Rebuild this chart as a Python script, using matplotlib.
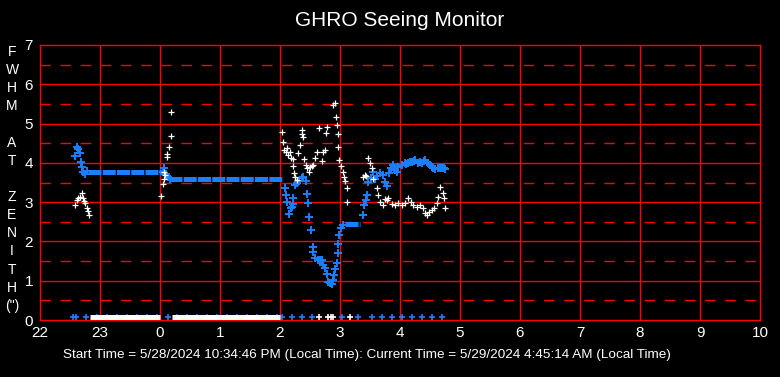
import numpy as np
import matplotlib
matplotlib.use("Agg")
import matplotlib.pyplot as plt
from matplotlib.transforms import ScaledTranslation

plt.rcParams['font.family'] = ['Liberation Sans', 'DejaVu Sans']

# hours relative to midnight (22:00 -> -2)
xticks = list(range(-2, 11))
xtick_labels = ["22", "23", "0", "1", "2", "3", "4", "5", "6", "7", "8", "9", "10"]

# blue series - scattered readings
blue_t = [-1.417, -1.383, -1.367, -1.333, -1.317, -1.30, -1.283, -1.25, -1.217,
          0.05, 0.067, 0.10, 0.133, 0.167,
          2.083, 2.10, 2.117, 2.15, 2.183, 2.20, 2.217, 2.217, 2.25, 2.283, 2.317,
          2.367, 2.383, 2.433, 2.45, 2.467, 2.483, 2.517, 2.55, 2.55, 2.583, 2.633,
          2.667, 2.70, 2.717, 2.75, 2.783, 2.80, 2.833, 2.867, 2.883, 2.90, 2.917,
          2.95, 2.967, 2.967, 2.983, 3.017, 3.05,
          3.383, 3.40, 3.433, 3.45, 3.467, 3.517, 3.55, 3.583, 3.617, 3.667, 3.717,
          3.75, 3.783, 3.817, 3.85, 3.883, 3.917, 3.95, 3.967, 4.033, 4.083, 4.10,
          4.133, 4.167, 4.20, 4.233, 4.25, 4.30, 4.333, 4.367, 4.40, 4.417, 4.467,
          4.50, 4.533, 4.55, 4.583, 4.633, 4.667, 4.70, 4.733, 4.75]
blue_v = [4.17, 4.40, 4.35, 4.25, 4.02, 3.89, 3.77, 3.72, 3.79,
          3.77, 3.87, 3.72, 3.64, 3.59,
          3.36, 3.18, 3.00, 2.70, 2.85, 2.88, 3.10, 2.95, 3.43, 3.49, 3.54,
          3.61, 3.64, 3.54, 3.21, 2.98, 2.62, 2.29, 1.86, 1.73, 1.58, 1.53,
          1.53, 1.53, 1.40, 1.32, 1.17, 0.97, 0.94, 0.92, 1.02, 1.15, 1.30,
          1.45, 1.70, 1.93, 2.16, 2.34, 2.42,
          2.67, 2.93, 3.05, 3.18, 3.51, 3.61, 3.77, 3.59, 3.66, 3.74, 3.69,
          3.51, 3.41, 3.74, 3.87, 3.94, 3.82, 3.77, 3.89, 3.94, 4.00, 3.98,
          4.00, 4.03, 4.02, 4.05, 4.07, 4.00, 4.03, 4.00, 4.05, 4.07, 4.00,
          3.95, 3.89, 3.86, 3.84, 3.87, 3.88, 3.87, 3.86, 3.84]

# blue series - long flat runs (start, end, value)
blue_runs = [(-1.20, 0.03, 3.76), (0.15, 2.03, 3.58), (3.08, 3.33, 2.44)]

# blue zero readings
blue_zero_t = [-1.45, -1.40, -1.233, -1.05, -0.883, -0.717, -0.55, -0.383, -0.217,
               -0.05, 0.133, 0.283, 0.45, 0.617, 0.783, 0.95, 1.117, 1.283, 1.45,
               1.617, 1.783, 1.95, 2.033, 2.20, 2.367, 2.533, 3.033, 3.30, 3.533,
               3.70, 3.867, 4.033, 4.20, 4.367, 4.533, 4.70]

# white series
white_t = [-1.417, -1.383, -1.367, -1.333, -1.30, -1.283, -1.267, -1.25, -1.217,
           -1.20, -1.183,
           0.017, 0.05, 0.067, 0.067, 0.083, 0.117, 0.117, 0.15, 0.183, 0.183,
           2.033, 2.05, 2.067, 2.10, 2.117, 2.133, 2.167, 2.183, 2.217, 2.217,
           2.233, 2.25, 2.283, 2.30, 2.333, 2.367, 2.367, 2.383, 2.40, 2.433,
           2.45, 2.483, 2.50, 2.533, 2.55, 2.583, 2.617, 2.65, 2.70, 2.717, 2.75,
           2.767, 2.783, 2.883, 2.917, 2.933, 2.95, 2.967, 2.967, 2.983, 3.017,
           3.05, 3.067, 3.083, 3.117, 3.117,
           3.383, 3.417, 3.433, 3.467, 3.50, 3.533, 3.55, 3.617, 3.633, 3.667,
           3.717, 3.75, 3.783, 3.80, 3.867, 3.917, 3.967, 4.033, 4.083, 4.133,
           4.183, 4.217, 4.283, 4.333, 4.383, 4.417, 4.45, 4.483, 4.533, 4.567,
           4.617, 4.633, 4.667, 4.717, 4.733, 4.75]
white_v = [2.93, 3.05, 3.10, 3.13, 3.23, 3.10, 3.03, 2.98, 2.85,
           2.77, 2.67,
           3.16, 3.46, 3.59, 3.77, 3.69, 4.15, 4.22, 4.40, 4.68, 5.29,
           4.78, 4.53, 4.33, 4.27, 4.38, 4.20, 4.27, 4.12, 4.10, 3.92,
           3.74, 3.64, 3.56, 4.25, 4.45, 4.73, 4.83, 4.66, 4.10, 3.94,
           3.87, 3.77, 3.89, 3.92, 3.94, 4.12, 4.27, 4.89, 4.05, 4.27, 4.33,
           4.76, 4.91, 5.47, 5.52, 5.17, 4.96, 4.73, 4.40, 4.07, 3.92,
           3.77, 3.64, 3.54, 3.36, 3.00,
           3.64, 3.69, 3.66, 4.12, 4.00, 3.87, 3.59, 3.36, 3.18, 3.00,
           2.93, 3.08, 3.05, 3.10, 2.95, 2.93, 2.98, 2.93, 2.98, 3.10,
           3.00, 2.93, 2.88, 2.93, 2.85, 2.72, 2.67, 2.75, 2.80, 2.85,
           2.98, 3.13, 3.38, 3.23, 3.10, 2.85]

# white zero readings: dense runs and single points
white_zero_runs = [(-1.17, 0.0), (0.2, 2.0)]
white_zero_t = [2.65, 2.80, 2.85, 2.883, 3.167]

BLUE = "#1a80ff"
RED = "#ff0000"

fig = plt.figure(figsize=(7.8, 3.77), dpi=100, facecolor="black")
ax = fig.add_axes([40 / 780, 57 / 377, 720 / 780, 275 / 377])
ax.set_facecolor("black")
ax.set_xlim(-2, 10)
ax.set_ylim(0, 7)

# grid
for y in range(1, 7):
    ax.axhline(y, color=RED, lw=1.0, zorder=1)
for y in np.arange(0.5, 7, 1.0):
    ax.hlines(y, -2, 10, color=RED, lw=1.0, linestyles=(0, (7.5, 7.0)), zorder=1)
for x in xticks[1:-1]:
    ax.axvline(x, color=RED, lw=1.0, zorder=1)
for s in ax.spines.values():
    s.set_color(RED)
    s.set_linewidth(1.0)

# zero row sits just above the bottom line
zero_tr = ax.transData + ScaledTranslation(0, 2 / 72, fig.dpi_scale_trans)

ax.plot(blue_zero_t, [0] * len(blue_zero_t), "+", color=BLUE, ms=5, mew=1.2,
        transform=zero_tr, clip_on=False, zorder=3)
for t0, t1 in white_zero_runs:
    ax.plot([t0, t1], [0, 0], color="white", lw=3.6, solid_capstyle="butt",
            transform=zero_tr, clip_on=False, zorder=4)
ax.plot(white_zero_t, [0] * len(white_zero_t), "+", color="white", ms=5, mew=1.2,
        transform=zero_tr, clip_on=False, zorder=4)

# blue series
for t0, t1, v in blue_runs:
    ax.plot([t0, t1], [v, v], color=BLUE, lw=3.6, solid_capstyle="butt",
            linestyle=(0, (2.6, 0.25)), zorder=3)
ax.plot(blue_t, blue_v, "+", color=BLUE, ms=5.5, mew=1.4, zorder=3)

# white series
ax.plot(white_t, white_v, "+", color="white", ms=5, mew=0.9, zorder=4)

ax.set_xticks(xticks)
ax.set_xticklabels(xtick_labels)
ax.set_yticks(range(0, 8))
ax.tick_params(length=0, colors="white", labelsize=11)
ax.tick_params(axis="x", pad=4)
ax.tick_params(axis="y", pad=5)

fig.text(400 / 780, 1 - 20 / 377, "GHRO Seeing Monitor", color="white",
         fontsize=15, ha="center", va="center")

fig.text(12 / 780, 1 - 45 / 377,
         "F\nW\nH\nM\n \nA\nT\n \nZ\nE\nN\nI\nT\nH\n(\")",
         color="white", fontsize=10, ha="center", va="top", linespacing=1.375)

fig.text(63 / 780, 1 - 355 / 377,
         "Start Time = 5/28/2024 10:34:46 PM (Local Time): "
         "Current Time = 5/29/2024 4:45:14 AM (Local Time)",
         color="white", fontsize=9.7, ha="left", va="center",
         family=["Liberation Sans Narrow", "Liberation Sans"])

fig.savefig("out.png", dpi=100, facecolor="black")
